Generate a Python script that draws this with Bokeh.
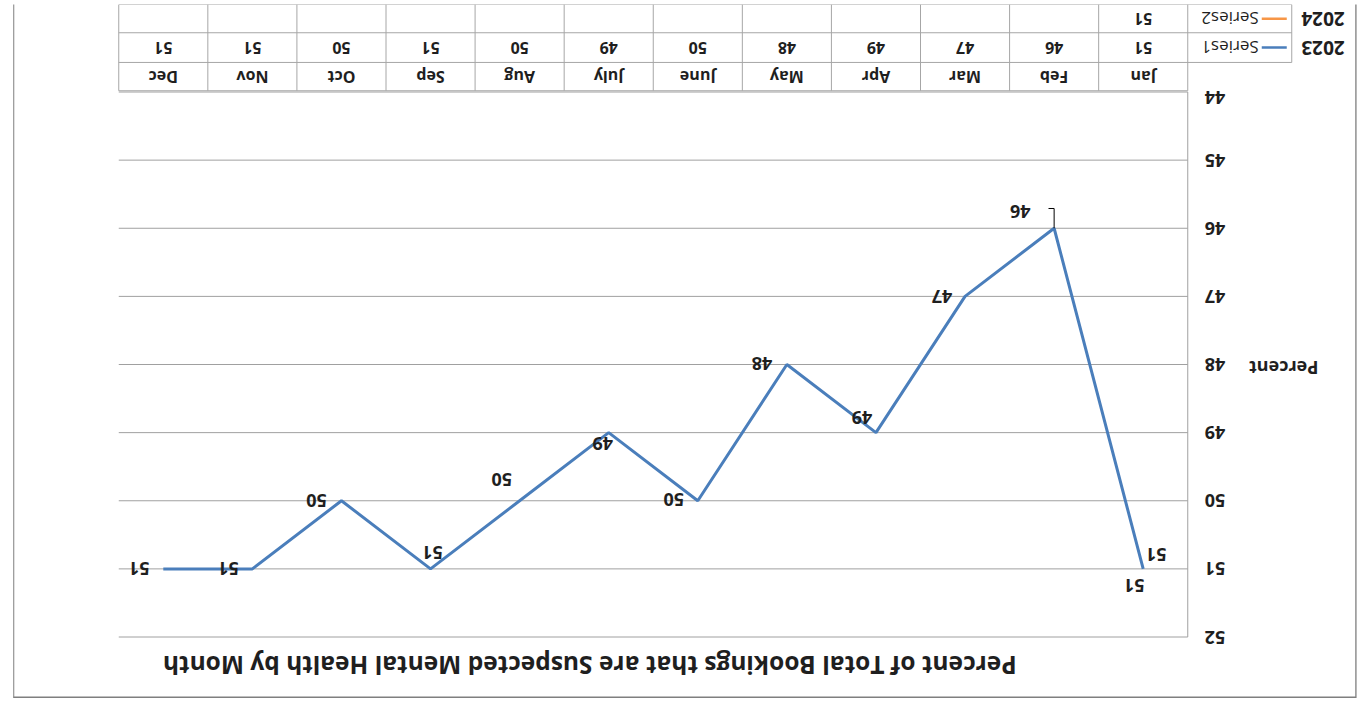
from bokeh.plotting import figure
from bokeh.models import Range1d, ColumnDataSource
from bokeh.core.properties import value
from bokeh.embed import file_html
from bokeh.resources import INLINE

# ---------------- data ----------------
months = ["Jan", "Feb", "Mar", "Apr", "May", "June", "July", "Aug", "Sep", "Oct", "Nov", "Dec"]
series1_name = "Series1"
series2_name = "Series2"
series1_year = "2023"
series2_year = "2024"
series1 = [51, 46, 47, 49, 48, 50, 49, 50, 51, 50, 51, 51]
series2 = [51]            # only January reported for 2024
series2_months = ["Jan"]
y_ticks = [44, 45, 46, 47, 48, 49, 50, 51, 52]
title_text = "Percent of Total Bookings that are Suspected Mental Health by Month"
y_title = "Percent"

# ---------------- style / layout (pixels of the un-rotated canvas) ----------------
FONT = "Open Sans"
TXT = "#1f1f1f"
BLUE = "#4a7ebb"
ORANGE = "#f79646"
GRID = "#a0a0a0"
TABLE_LINE = "#a6a6a6"
BORDER = "#7f7f7f"

W, H = 1344, 694
FR_L, FR_R = 169, 1238        # plot area left / right
FR_T, FR_B = 61, 606          # plot area top / bottom
Y_LO, Y_HI = 44, 52
month_px = (FR_R - FR_L) / 12.0
unit_px = (FR_B - FR_T) / float(Y_HI - Y_LO)

ROW_V = [607.25, 635.55, 665.25, 693.5]     # table row boundaries
HDR_U = 65                                   # left edge of the table header column

# label offsets (screen px) for data labels
s1_dx = [-13, 34, 23, 14, 25, 24, 6, 18, -2, 25, 24, 24]
s1_dy = [14, 17, 0, 15, 1, 1, -11, 21, 16, 0, 0, 0]
s2_dx = [9]
s2_dy = [-17]
tick_dy = [-5.5, 0, 0, 0, 0, 0, 0, 0, 0]

x_start = -FR_L / month_px
x_end = (W - FR_L) / month_px
y_start = Y_LO - (H - FR_B) / unit_px
y_end = Y_HI + FR_T / unit_px

p = figure(width=W, height=H, x_range=Range1d(x_start, x_end),
           y_range=Range1d(y_start, y_end),
           output_backend="svg", toolbar_location=None, min_border=0)
p.extra_x_ranges = {"px": Range1d(0, W)}
p.extra_y_ranges = {"px": Range1d(H, 0)}
p.background_fill_color = None
p.border_fill_color = None
p.outline_line_color = None
p.xaxis.visible = False
p.yaxis.visible = False
p.grid.visible = False
p.styles = {"transform": "translate(13.25px, 4.5px) rotate(180deg)"}

n = len(months)
mx = [i + 0.5 for i in range(n)]
s2x = [months.index(m) + 0.5 for m in series2_months]

# gridlines and value axis line
p.segment(x0=[0] * len(y_ticks), x1=[n] * len(y_ticks), y0=y_ticks, y1=y_ticks,
          line_color=GRID, line_width=1)
p.segment(x0=[0], x1=[0], y0=[Y_LO], y1=[Y_HI], line_color=GRID, line_width=1)

# value axis tick labels
p.text(x=[152] * len(y_ticks), y=y_ticks, text=[str(v) for v in y_ticks],
       y_offset=tick_dy, x_range_name="px", text_align="right", text_baseline="middle",
       text_font=value(FONT), text_font_size="18px", text_font_style="bold",
       text_color=TXT)

# series
p.line(x=mx, y=series1, line_color=BLUE, line_width=3)
p.line(x=s2x, y=series2, line_color=ORANGE, line_width=3)

src1 = ColumnDataSource(dict(x=mx, y=series1, t=[str(v) for v in series1],
                             dx=s1_dx, dy=s1_dy))
p.text(x="x", y="y", text="t", x_offset="dx", y_offset="dy", source=src1,
       text_align="center", text_baseline="middle", text_font=value(FONT),
       text_font_size="18px", text_font_style="bold", text_color=TXT)
src2 = ColumnDataSource(dict(x=s2x, y=series2, t=[str(v) for v in series2],
                             dx=s2_dx, dy=s2_dy))
p.text(x="x", y="y", text="t", x_offset="dx", y_offset="dy", source=src2,
       text_align="center", text_baseline="middle", text_font=value(FONT),
       text_font_size="18px", text_font_style="bold", text_color=TXT)

# leader line for the February label
lead_y = series1[1] - 0.29
p.segment(x0=[mx[1]], y0=[series1[1]], x1=[mx[1]], y1=[lead_y],
          line_color="#000000", line_width=1)
p.segment(x0=[mx[1]], y0=[lead_y], x1=[mx[1] + 0.063], y1=[lead_y],
          line_color="#000000", line_width=1)

# titles
p.text(x=[767], y=[33], text=[title_text], x_range_name="px", y_range_name="px",
       text_align="center", text_baseline="middle", text_font=value(FONT),
       text_font_size="24.5px", text_font_style="bold", text_color=TXT)
p.text(x=[73], y=[330], text=[y_title], x_range_name="px", y_range_name="px",
       text_align="center", text_baseline="middle", text_font=value(FONT),
       text_font_size="18px", text_font_style="bold", text_color=TXT)

# ---------------- data table ----------------
hdr_x = (HDR_U - FR_L) / month_px
p.segment(x0=[0, hdr_x, hdr_x, hdr_x], x1=[n] * 4, y0=ROW_V, y1=ROW_V,
          y_range_name="px", line_color=TABLE_LINE, line_width=1)
vx = list(range(n + 1)) + [hdr_x]
p.segment(x0=vx, x1=vx, y0=[ROW_V[0]] * (n + 1) + [ROW_V[1]], y1=[ROW_V[3]] * (n + 2),
          y_range_name="px", line_color=TABLE_LINE, line_width=1)

row_c = [(ROW_V[i] + ROW_V[i + 1]) / 2 for i in range(3)]
p.text(x=mx, y=[row_c[0]] * n, text=months, y_range_name="px",
       text_align="center", text_baseline="middle", text_font=value(FONT),
       text_font_size="16px", text_font_style="bold", text_color=TXT)
p.text(x=mx, y=[row_c[1]] * n, text=[str(v) for v in series1], y_range_name="px",
       text_align="center", text_baseline="middle", text_font=value(FONT),
       text_font_size="16px", text_font_style="bold", text_color=TXT)
p.text(x=s2x, y=[row_c[2]] * len(s2x), text=[str(v) for v in series2], y_range_name="px",
       text_align="center", text_baseline="middle", text_font=value(FONT),
       text_font_size="16px", text_font_style="bold", text_color=TXT)

p.segment(x0=[70], x1=[95], y0=[row_c[1]], y1=[row_c[1]], x_range_name="px",
          y_range_name="px", line_color=BLUE, line_width=2.5)
p.segment(x0=[70], x1=[95], y0=[row_c[2]], y1=[row_c[2]], x_range_name="px",
          y_range_name="px", line_color=ORANGE, line_width=2.5)
p.text(x=[98, 98], y=[row_c[1], row_c[2]], text=[series1_name, series2_name],
       x_range_name="px", y_range_name="px", text_align="left", text_baseline="middle",
       text_font=value(FONT), text_font_size="17px", text_color=TXT)
p.text(x=[12, 12], y=[row_c[1], row_c[2]], text=[series1_year, series2_year],
       x_range_name="px", y_range_name="px", text_align="left", text_baseline="middle",
       text_font=value(FONT), text_font_size="19px", text_font_style="bold", text_color=TXT)

# chart-area border
p.segment(x0=[0.75, 0.75, W - 0.75], x1=[W - 0.75, 0.75, W - 0.75],
          y0=[0.75, 0, 0], y1=[0.75, H, H], x_range_name="px", y_range_name="px",
          line_color=BORDER, line_width=1.5)

open("out.html", "w").write(file_html(p, INLINE))
